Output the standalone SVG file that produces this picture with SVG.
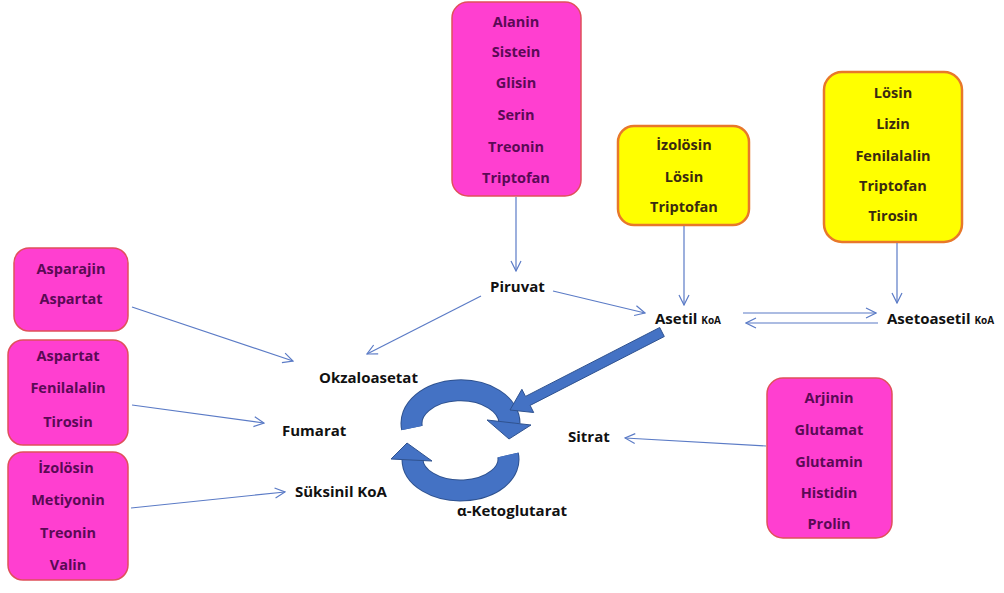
<svg xmlns="http://www.w3.org/2000/svg" width="1004" height="593" viewBox="0 0 1004 593">
<style>
.pink{fill:#FF3FD0;stroke:#E0505A;stroke-width:1.5}
.yellow{fill:#FFFF00;stroke:#E8782A;stroke-width:2.5}
.bt{font-family:"Open Sans","Liberation Sans",sans-serif;font-weight:bold;font-size:14.5px;text-anchor:middle}
.pt{fill:#5A0A55}
.yt{fill:#3A2A10}
.lbl{font-family:"Open Sans","Liberation Sans",sans-serif;font-weight:bold;font-size:15px;fill:#111}
.sm{font-size:10px}
.con{stroke:#5B7BC6;stroke-width:1.2;fill:none;marker-end:url(#ah)}
.cyc{fill:#4472C4;stroke:#2F528F;stroke-width:1}
</style>
<defs>
<marker id="ah" viewBox="0 0 12 12" refX="11" refY="6" markerWidth="12" markerHeight="12" markerUnits="userSpaceOnUse" orient="auto">
<path d="M1,1 L11,6 L1,11" fill="none" stroke="#5B7BC6" stroke-width="1.2"/>
</marker>
</defs>
<rect width="1004" height="593" fill="#fff"/>

<g id="n-top">
<rect class="pink" x="452" y="2" width="129" height="194" rx="16"/>
<text class="bt pt" x="516" y="27">Alanin</text>
<text class="bt pt" x="516" y="57">Sistein</text>
<text class="bt pt" x="516" y="88">Glisin</text>
<text class="bt pt" x="516" y="120">Serin</text>
<text class="bt pt" x="516" y="152">Treonin</text>
<text class="bt pt" x="516" y="183">Triptofan</text>
</g>
<g id="n-yellow1">
<rect class="yellow" x="618" y="126" width="131" height="99" rx="16"/>
<text class="bt yt" x="684" y="150">İzolösin</text>
<text class="bt yt" x="684" y="182">Lösin</text>
<text class="bt yt" x="684" y="212">Triptofan</text>
</g>
<g id="n-yellow2">
<rect class="yellow" x="824" y="72" width="138" height="170" rx="18"/>
<text class="bt yt" x="893" y="98">Lösin</text>
<text class="bt yt" x="893" y="129">Lizin</text>
<text class="bt yt" x="893" y="161">Fenilalalin</text>
<text class="bt yt" x="893" y="191">Triptofan</text>
<text class="bt yt" x="893" y="221">Tirosin</text>
</g>
<g id="n-left1">
<rect class="pink" x="14" y="248" width="114" height="83" rx="15"/>
<text class="bt pt" x="71" y="274">Asparajin</text>
<text class="bt pt" x="71" y="304">Aspartat</text>
</g>
<g id="n-left2">
<rect class="pink" x="8" y="340" width="120" height="105" rx="15"/>
<text class="bt pt" x="68" y="361">Aspartat</text>
<text class="bt pt" x="68" y="393">Fenilalalin</text>
<text class="bt pt" x="68" y="427">Tirosin</text>
</g>
<g id="n-left3">
<rect class="pink" x="8" y="452" width="120" height="128" rx="15"/>
<text class="bt pt" x="66" y="473">İzolösin</text>
<text class="bt pt" x="68" y="505">Metiyonin</text>
<text class="bt pt" x="68" y="538">Treonin</text>
<text class="bt pt" x="68" y="570">Valin</text>
</g>
<g id="n-right">
<rect class="pink" x="767" y="378" width="125" height="160" rx="16"/>
<text class="bt pt" x="829" y="403">Arjinin</text>
<text class="bt pt" x="829" y="435">Glutamat</text>
<text class="bt pt" x="829" y="467">Glutamin</text>
<text class="bt pt" x="829" y="498">Histidin</text>
<text class="bt pt" x="829" y="529">Prolin</text>
</g>

<g id="labels">
<text class="lbl" x="490" y="292">Piruvat</text>
<text class="lbl" x="655" y="324">Asetil <tspan class="sm">KoA</tspan></text>
<text class="lbl" x="887" y="324">Asetoasetil <tspan class="sm">KoA</tspan></text>
<text class="lbl" x="319" y="383">Okzaloasetat</text>
<text class="lbl" x="282" y="436">Fumarat</text>
<text class="lbl" x="568" y="442">Sitrat</text>
<text class="lbl" x="295" y="497">Süksinil KoA</text>
<text class="lbl" x="457" y="516">α-Ketoglutarat</text>
</g>

<g id="connectors">
<line class="con" x1="516" y1="197" x2="516" y2="271"/>
<line class="con" x1="684" y1="226" x2="684" y2="305"/>
<line class="con" x1="897" y1="243" x2="897" y2="303"/>
<line class="con" x1="481" y1="296" x2="367" y2="354"/>
<line class="con" x1="553" y1="291" x2="645" y2="313"/>
<line class="con" x1="743" y1="313" x2="876" y2="313"/>
<line class="con" x1="878" y1="323" x2="746" y2="323"/>
<line class="con" x1="132" y1="307" x2="293" y2="361"/>
<line class="con" x1="132" y1="405" x2="264" y2="423"/>
<line class="con" x1="131" y1="508" x2="285" y2="492"/>
<line class="con" x1="766" y1="446" x2="625" y2="438"/>
</g>

<g id="cycle">
<path d="M412,428 A49,33 0 1 1 509.5,423.4" fill="none" stroke="#2F528F" stroke-width="22"/>
<path d="M412,428 A49,33 0 1 1 509.5,423.4" fill="none" stroke="#4472C4" stroke-width="20"/>
<polygon class="cyc" points="487,420 531,425 509,439"/>
<path d="M508,455 A48,31 0 1 1 412.5,459.5" fill="none" stroke="#2F528F" stroke-width="22"/>
<path d="M508,455 A48,31 0 1 1 412.5,459.5" fill="none" stroke="#4472C4" stroke-width="20"/>
<polygon class="cyc" points="391,459 432,461 407,443"/>
<polygon class="cyc" points="659.7,327.5 664.3,336.5 530.1,405.4 533.7,412.5 510,410 521.9,389.3 525.5,396.4"/>
</g>
</svg>
